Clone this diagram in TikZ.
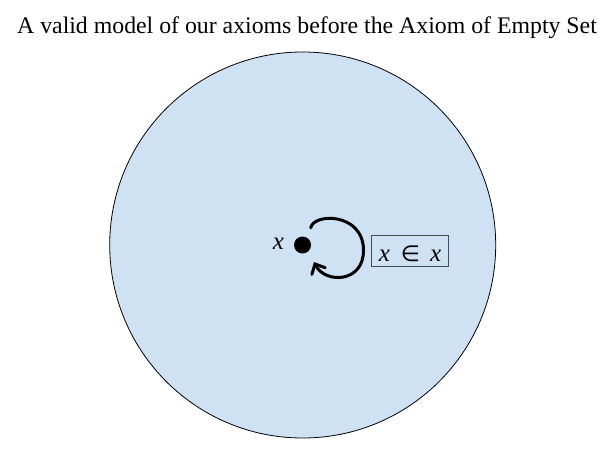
\documentclass[tikz,border=0pt]{standalone}
\usepackage{fontspec}
\setmainfont{Liberation Serif}
\newfontfamily\symfont{DejaVu Sans}
\usetikzlibrary{arrows.meta}
\definecolor{modelblue}{HTML}{CFE2F3}
\definecolor{boxgray}{HTML}{4A4A4A}
\tikzset{
    member loop/.style={line width=3pt, line cap=round, -{Straight Barb[length=8pt,width=15pt,line cap=round]}},
}

\begin{document}
\begin{tikzpicture}[x=1pt, y=-1pt]
        \useasboundingbox (0, 0) rectangle (612, 449);
        %draw title
        \node[anchor=base, font=\fontsize{23.8}{28}\selectfont] (title) at (307, 33.3) {A valid model of our axioms before the Axiom of Empty Set};
        %draw model
        \node[circle, draw, fill=modelblue, line width=0.8pt, minimum size=386pt, inner sep=0pt] (model) at (302.7, 245) {};
        %draw the set x
        \node[circle, fill, minimum size=17pt, inner sep=0pt] (setx) at (302.5, 245) {};
        \node[anchor=base, font=\fontsize{25}{30}\selectfont] (xlabel) at (278.3, 249) {\textit{x}};
        %draw x in x
        \coordinate (loopstart) at (310.7, 228);
        \coordinate (loopend) at (314, 262);
        \draw[member loop] (loopstart) .. controls (313, 213) and (363, 212) .. (363.5, 250) .. controls (364, 283) and (325, 284) .. (loopend);
        %label the relation
        \node[draw=boxgray, line width=0.8pt, minimum width=76.6pt, minimum height=31pt, inner sep=0pt, text height=21pt, text depth=0pt, font=\fontsize{25}{30}\selectfont] (relation) at (410, 250.8) {\textit{x}\hspace{11pt}{\symfont\fontsize{22}{26}\selectfont ∈}\hspace{10pt}\textit{x}};
\end{tikzpicture}
\end{document}
